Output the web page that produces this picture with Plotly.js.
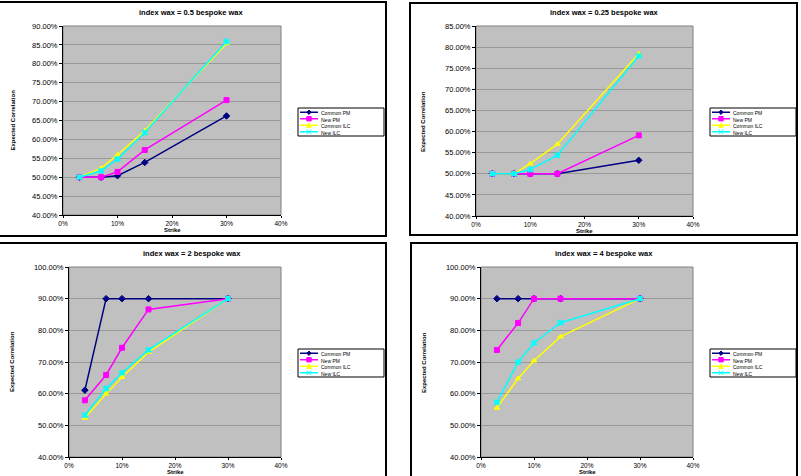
<!DOCTYPE html>
<html>
<head>
<meta charset="utf-8">
<script src="https://cdn.plot.ly/plotly-3.0.1.min.js"></script>
<style>html,body{margin:0;padding:0;background:#fff;}#chart{width:801px;height:476px;}</style>
</head>
<body>
<div id="chart"></div>
<script>
// ---- data (strike in %, expected correlation in %) ----
const strikes = [3, 7, 10, 15, 30];
const seriesNames = ["Common PM", "New PM", "Common ILC", "New ILC"];

const panelTitles = [
  "index wax = 0.5 bespoke wax",
  "index wax = 0.25 bespoke wax",
  "index wax = 2 bespoke wax",
  "index wax = 4 bespoke wax"
];

// panel 1: index = 0.5 bespoke
const commonPM_p1  = [50.0, 50.0, 50.4, 53.9, 66.2];
const newPM_p1     = [50.0, 50.0, 51.4, 57.2, 70.4];
const commonILC_p1 = [50.0, 52.4, 55.9, 62.3, 85.4];
const newILC_p1    = [50.0, 51.7, 54.8, 61.8, 85.9];

// panel 2: index = 0.25 bespoke
const commonPM_p2  = [50.0, 50.0, 50.0, 50.0, 53.2];
const newPM_p2     = [50.0, 50.0, 50.0, 50.0, 59.1];
const commonILC_p2 = [50.0, 50.0, 52.4, 57.0, 78.4];
const newILC_p2    = [50.0, 50.0, 51.0, 54.4, 77.9];

// panel 3: index = 2 bespoke
const commonPM_p3  = [61.1, 90.0, 90.0, 90.0, 90.0];
const newPM_p3     = [57.9, 65.9, 74.5, 86.6, 90.0];
const commonILC_p3 = [52.3, 60.0, 65.2, 73.1, 90.0];
const newILC_p3    = [53.2, 61.6, 66.6, 73.8, 90.0];

// panel 4: index = 4 bespoke
const commonPM_p4  = [90.0, 90.0, 90.0, 90.0, 90.0];
const newPM_p4     = [73.8, 82.3, 90.0, 90.0, 90.0];
const commonILC_p4 = [55.5, 64.8, 70.4, 78.0, 90.0];
const newILC_p4    = [57.3, 70.0, 76.0, 82.4, 90.0];

const yRanges = [[40, 90], [40, 85], [40, 100], [40, 100]];
const yDticks = [5, 5, 10, 10];

// ---- styling ----
const W = 801, H = 476;
const FONT = "Liberation Sans, Arial, sans-serif";
const colors = ["#000080", "#FF00FF", "#FFFF00", "#00FFFF"];
const symbols = ["diamond", "square", "triangle-up", "x"];

const panels = [
  [commonPM_p1, newPM_p1, commonILC_p1, newILC_p1],
  [commonPM_p2, newPM_p2, commonILC_p2, newILC_p2],
  [commonPM_p3, newPM_p3, commonILC_p3, newILC_p3],
  [commonPM_p4, newPM_p4, commonILC_p4, newILC_p4]
];

// plot areas in pixels: [x0, x1, yTop, yBottom]
const areas = [
  [63, 281, 26, 215],
  [476, 693, 26, 216],
  [69, 281, 267, 457],
  [481, 693, 267, 457]
];
// frames in pixels
const frames = [
  [-2, 386, 2, 236],
  [410, 797, 3, 235],
  [-2, 386, 243, 479],
  [411, 797, 243, 479]
];
// legend boxes: [x0, yTop]
const legendPos = [[298, 108], [710, 108], [298, 349], [710, 349]];
const titlePos = [[191, 12], [604, 12], [192, 253], [604, 253]];

const px = v => v / W;
const py = v => 1 - v / H;

const traces = [];
const layout = {
  width: W, height: H,
  margin: {l: 0, r: 0, t: 0, b: 0},
  paper_bgcolor: "#ffffff",
  plot_bgcolor: "#C0C0C0",
  font: {family: FONT, size: 7, color: "#000"},
  showlegend: false,
  shapes: [], annotations: []
};

function markerShapes(sym, cx, cy, color) {
  const r = 2.2;
  const out = [];
  const base = {xref: "paper", yref: "paper", line: {color: color, width: 1}, fillcolor: color};
  if (sym === "square") {
    out.push(Object.assign({}, base, {type: "rect", x0: px(cx - r), x1: px(cx + r), y0: py(cy + r), y1: py(cy - r)}));
  } else if (sym === "diamond") {
    out.push(Object.assign({}, base, {type: "path",
      path: `M ${px(cx - r)} ${py(cy)} L ${px(cx)} ${py(cy - r)} L ${px(cx + r)} ${py(cy)} L ${px(cx)} ${py(cy + r)} Z`}));
  } else if (sym === "triangle-up") {
    out.push(Object.assign({}, base, {type: "path",
      path: `M ${px(cx - r)} ${py(cy + r)} L ${px(cx)} ${py(cy - r)} L ${px(cx + r)} ${py(cy + r)} Z`}));
  } else {
    out.push(Object.assign({}, base, {type: "line", x0: px(cx - r), x1: px(cx + r), y0: py(cy - r), y1: py(cy + r)}));
    out.push(Object.assign({}, base, {type: "line", x0: px(cx - r), x1: px(cx + r), y0: py(cy + r), y1: py(cy - r)}));
  }
  return out;
}

panels.forEach((series, i) => {
  const n = i + 1;
  const xa = n === 1 ? "x" : "x" + n;
  const ya = n === 1 ? "y" : "y" + n;
  series.forEach((vals, s) => {
    traces.push({
      x: strikes, y: vals, xaxis: xa, yaxis: ya,
      type: "scatter", mode: "lines+markers",
      name: seriesNames[s],
      line: {color: colors[s], width: 1.5},
      marker: {color: colors[s], symbol: symbols[s], size: 5,
               line: {color: colors[s], width: 1}}
    });
  });
  const a = areas[i];
  layout["xaxis" + (n === 1 ? "" : n)] = {
    domain: [px(a[0]), px(a[1])], anchor: ya,
    range: [0, 40], dtick: 10, tick0: 0,
    ticksuffix: "%", tickformat: ".0f",
    showgrid: false, zeroline: false,
    showline: true, linecolor: "#000", linewidth: 1,
    ticks: "outside", ticklen: 2, tickcolor: "#000",
    tickfont: {size: 6.5, family: FONT}, fixedrange: true
  };
  layout["yaxis" + (n === 1 ? "" : n)] = {
    domain: [py(a[3]), py(a[2])], anchor: xa,
    range: yRanges[i], dtick: yDticks[i], tick0: 40,
    ticksuffix: "%", tickformat: ".2f",
    showgrid: true, gridcolor: "#999999", gridwidth: 1,
    zeroline: false,
    showline: true, linecolor: "#000", linewidth: 1,
    ticks: "outside", ticklen: 3, tickcolor: "#000",
    tickfont: {size: 7.5, family: FONT}, fixedrange: true
  };
  // plot-area border (right/top grey)
  layout.shapes.push({
    type: "rect", xref: "paper", yref: "paper",
    x0: px(a[0]), x1: px(a[1]), y0: py(a[3]), y1: py(a[2]),
    line: {color: "#808080", width: 1}, fillcolor: "rgba(0,0,0,0)", layer: "below"
  });
  // chart frame
  const f = frames[i];
  layout.shapes.push({
    type: "rect", xref: "paper", yref: "paper",
    x0: px(f[0]), x1: px(f[1]), y0: py(f[3]), y1: py(f[2]),
    line: {color: "#000", width: 2}, fillcolor: "rgba(0,0,0,0)"
  });
  // compact legend (box + samples + one text block)
  const lp = legendPos[i];
  const rowH = 6.5, boxH = 4 * rowH + 2, boxW = 86;
  layout.shapes.push({
    type: "rect", xref: "paper", yref: "paper",
    x0: px(lp[0]), x1: px(lp[0] + boxW), y0: py(lp[1] + boxH), y1: py(lp[1]),
    line: {color: "#000", width: 1}, fillcolor: "#ffffff"
  });
  seriesNames.forEach((nm, s) => {
    const cy = lp[1] + 1 + rowH * (s + 0.5);
    layout.shapes.push({
      type: "line", xref: "paper", yref: "paper",
      x0: px(lp[0] + 2), x1: px(lp[0] + 20), y0: py(cy), y1: py(cy),
      line: {color: colors[s], width: 1.5}
    });
    markerShapes(symbols[s], lp[0] + 11, cy, colors[s]).forEach(sh => layout.shapes.push(sh));
  });
  layout.annotations.push({
    text: seriesNames.join("<br>"), xref: "paper", yref: "paper",
    x: px(lp[0] + 22), y: py(lp[1] + 1), xanchor: "left", yanchor: "top",
    align: "left", showarrow: false, borderpad: 0,
    font: {size: 5, family: FONT}
  });
  // titles
  const tp = titlePos[i];
  layout.annotations.push({
    text: "<b>" + panelTitles[i] + "</b>", xref: "paper", yref: "paper",
    x: px(tp[0]), y: py(tp[1]), xanchor: "center", yanchor: "middle",
    showarrow: false, font: {size: 7.5, family: FONT}
  });
  layout.annotations.push({
    text: "<b>Strike</b>", xref: "paper", yref: "paper",
    x: px((a[0] + a[1]) / 2), y: py(a[3] + 14.5), xanchor: "center", yanchor: "middle",
    showarrow: false, font: {size: 6, family: FONT}
  });
  layout.annotations.push({
    text: "<b>Expected Correlation</b>", xref: "paper", yref: "paper",
    x: px(frames[i][0] < 0 ? 12 : frames[i][0] + 13), y: py((a[2] + a[3]) / 2),
    xanchor: "center", yanchor: "middle", textangle: -90,
    showarrow: false, font: {size: 6, family: FONT}
  });
});

Plotly.newPlot("chart", traces, layout, {displayModeBar: false, staticPlot: true});
</script>
</body>
</html>
